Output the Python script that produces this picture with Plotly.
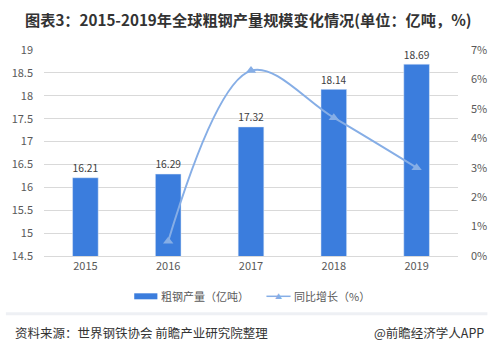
import plotly.graph_objects as go

years = ["2015", "2016", "2017", "2018", "2019"]
output = [16.21, 16.29, 17.32, 18.14, 18.69]
growth_years = ["2016", "2017", "2018", "2019"]
growth = [0.5, 6.3, 4.7, 3.0]
y_ticks = [14.5, 15, 15.5, 16, 16.5, 17, 17.5, 18, 18.5, 19]
y2_ticks = [0, 1, 2, 3, 4, 5, 6, 7]

FONT = "Noto Sans CJK SC"
BAR = "#3B7DDD"
LINE = "#86AEE6"

W, H = 499, 353
L, R, T, B = 39.5, 30.5, 49.5, 96.5
pw, ph = W - L - R, H - T - B

def px(x):
    return (x - L) / pw

def py(y):
    return (H - B - y) / ph

fig = go.Figure()
fig.add_trace(go.Bar(
    x=years, y=output, marker_color=BAR, width=0.31,
    text=[f"{v:.2f}" for v in output], textposition="outside",
    textfont=dict(size=11.5, color="#404040", family=FONT),
    cliponaxis=False, showlegend=False,
))
fig.add_trace(go.Scatter(
    x=growth_years, y=growth, yaxis="y2", mode="lines+markers",
    line=dict(color=LINE, width=2, shape="spline", smoothing=1.0),
    marker=dict(symbol="triangle-up", size=9, color=LINE),
    showlegend=False,
))

shapes = [
    dict(type="line", xref="paper", yref="paper", x0=px(133), x1=px(157),
         y0=py(297), y1=py(297), line=dict(color=BAR, width=6)),
    dict(type="line", xref="paper", yref="paper", x0=px(270), x1=px(295),
         y0=py(297), y1=py(297), line=dict(color=LINE, width=1.5)),
    dict(type="line", xref="paper", yref="paper", x0=px(0), x1=px(499),
         y0=py(314.5), y1=py(314.5), line=dict(color="#EEF0F4", width=3)),
]

annotations = [
    dict(text="粗钢产量（亿吨）", xref="paper", yref="paper", x=px(159), y=py(297),
         xanchor="left", yanchor="middle", showarrow=False,
         font=dict(size=11, color="#595959", family=FONT)),
    dict(text="同比增长（%）", xref="paper", yref="paper", x=px(296), y=py(297),
         xanchor="left", yanchor="middle", showarrow=False,
         font=dict(size=11, color="#595959", family=FONT)),
    dict(text="▲", xref="paper", yref="paper", x=px(282.5), y=py(296.5),
         xanchor="center", yanchor="middle", showarrow=False,
         font=dict(size=7, color=LINE, family=FONT)),
    dict(text="资料来源：世界钢铁协会 前瞻产业研究院整理", xref="paper", yref="paper",
         x=px(7), y=py(333), xanchor="left", yanchor="middle", showarrow=False,
         font=dict(size=12.5, color="#333333", family=FONT)),
    dict(text="@前瞻经济学人APP", xref="paper", yref="paper",
         x=px(497), y=py(333), xanchor="right", yanchor="middle", showarrow=False,
         font=dict(size=12.5, color="#333333", family=FONT)),
]

fig.update_layout(
    width=W, height=H,
    margin=dict(l=L, r=R, t=T, b=B, pad=0),
    paper_bgcolor="white", plot_bgcolor="white",
    font=dict(family=FONT, color="#595959", size=11),
    title=dict(text="<b>图表3：2015-2019年全球粗钢产量规模变化情况(单位：亿吨，%)</b>",
               x=25 / W, xanchor="left", y=1 - 21 / H, yanchor="middle",
               font=dict(size=15.2, color="#333333", family=FONT)),
    xaxis=dict(type="category", showgrid=False, showline=True, linecolor="#D9D9D9",
               ticks="", tickfont=dict(size=11, color="#595959")),
    yaxis=dict(range=[14.5, 19], tickvals=y_ticks, ticktext=[f"{v:g}" for v in y_ticks],
               showgrid=True, gridcolor="#D9D9D9", gridwidth=1, zeroline=False,
               ticks="", ticklabelstandoff=10, tickfont=dict(size=11, color="#595959")),
    yaxis2=dict(range=[0, 7], tickvals=y2_ticks, ticktext=[f"{v}%" for v in y2_ticks],
                overlaying="y", side="right", showgrid=False, zeroline=False,
                ticks="", ticklabelstandoff=12, tickfont=dict(size=11, color="#595959")),
    bargap=0.69,
    shapes=shapes,
    annotations=annotations,
)

fig.write_html("out.html")
